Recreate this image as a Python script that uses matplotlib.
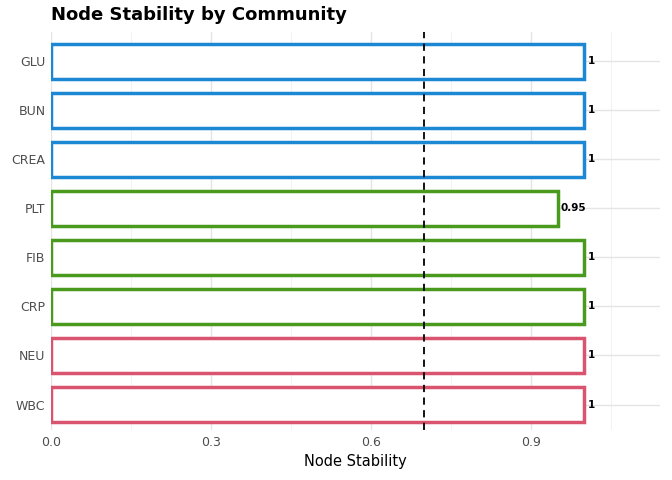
import matplotlib.pyplot as plt
import numpy as np

nodes = ["WBC", "NEU", "CRP", "FIB", "PLT", "CREA", "BUN", "GLU"]
stability = [1, 1, 1, 1, 0.95, 1, 1, 1]
labels = ["1", "1", "1", "1", "0.95", "1", "1", "1"]
colors = ["#d9546e", "#d9546e", "#4a9a1e", "#4a9a1e", "#4a9a1e", "#1c88d4", "#1c88d4", "#1c88d4"]
threshold = 0.7

fig = plt.figure(figsize=(6.72, 4.8), dpi=100)
ax = fig.add_axes([51 / 672, 1 - 430 / 480, (660 - 51) / 672, (430 - 32) / 480])
y = np.arange(len(nodes))
ax.barh(y, stability, height=0.7, color="white", edgecolor=colors, linewidth=2.5, zorder=3)
for yi, v, lab in zip(y, stability, labels):
    ax.text(v + 0.006, yi, lab, va="center", ha="left", fontsize=7.5, fontweight="bold", zorder=4)
ax.axvline(threshold, color="black", linestyle=(0, (4, 3)), linewidth=1.3, zorder=4)

ax.set_xlim(0, 1.142)
ax.set_ylim(-0.52, 7.6)
ax.set_yticks(y)
ax.set_yticklabels(nodes, fontsize=9, color="#4d4d4d")
ax.set_xticks([0, 0.3, 0.6, 0.9])
ax.set_xticklabels(["0.0", "0.3", "0.6", "0.9"], fontsize=9, color="#4d4d4d")
ax.set_xticks([0.15, 0.45, 0.75, 1.05], minor=True)
ax.grid(True, axis="x", which="major", color="#e5e5e5", linewidth=1.0, zorder=0)
ax.grid(True, axis="x", which="minor", color="#f0f0f0", linewidth=0.6, zorder=0)
ax.grid(True, axis="y", color="#e5e5e5", linewidth=1.0, zorder=0)
ax.tick_params(length=0, pad=4)
ax.tick_params(which="minor", length=0)
for s in ax.spines.values():
    s.set_visible(False)
ax.set_xlabel("Node Stability", fontsize=10.5)
fig.text(51 / 672, 1 - 15 / 480, "Node Stability by Community", fontsize=13, fontweight="bold", va="center")

fig.savefig("out.png", dpi=100)
